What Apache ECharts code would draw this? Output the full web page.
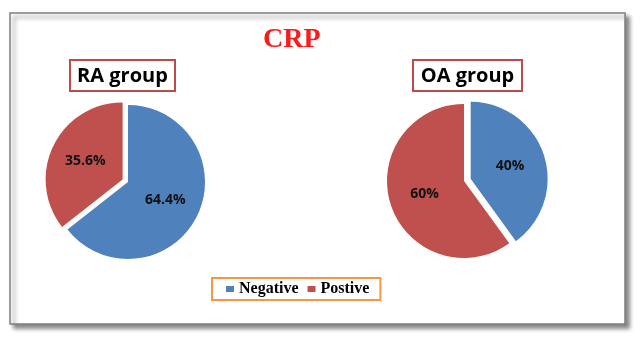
<!DOCTYPE html>
<html>
<head>
<meta charset="utf-8">
<script src="https://cdn.jsdelivr.net/npm/echarts@6/dist/echarts.min.js"></script>
<style>
  html, body { margin: 0; padding: 0; background: #fff; }
  #main { width: 640px; height: 341px; }
</style>
</head>
<body>
<div id="main"></div>
<script>
// CRP result per group, in percent
var categories = ['Negative', 'Postive'];
var raValues = [64.4, 35.6];
var oaValues = [40, 60];
var groupNames = ['RA group', 'OA group'];

var chart = echarts.init(document.getElementById('main'));

// build pie data; the exploded slice is the one marked selected
function pieData(values, explodeIdx) {
    return categories.map(function (name, i) {
        return { name: name, value: values[i], selected: i === explodeIdx };
    });
}

function pieSeries(values, center, explodeIdx, offset) {
    return {
        type: 'pie',
        center: center,
        radius: 77,
        startAngle: 90,
        clockwise: true,
        selectedMode: 'single',
        selectedOffset: offset,
        silent: true,
        emphasis: { disabled: true },
        label: {
            position: 'inside',
            formatter: function (p) { return p.value + '%'; },
            color: '#111',
            fontFamily: 'Open Sans',
            fontWeight: 'bold',
            fontSize: 14
        },
        labelLine: { show: false },
        data: pieData(values, explodeIdx)
    };
}

var option = {
    backgroundColor: '#fff',
    animation: false,
    color: ['#4f81bd', '#c0504d'],
    graphic: [
        {
            type: 'rect', z: -10,
            shape: { x: 10, y: 13, width: 615, height: 311 },
            style: {
                fill: '#fff', stroke: '#7f7f7f', lineWidth: 1.5,
                shadowBlur: 4, shadowOffsetX: 4, shadowOffsetY: 4, shadowColor: 'rgba(0,0,0,0.45)'
            }
        },
        {
            type: 'text', left: 263, top: 26,
            style: {
                text: 'CRP', fill: '#ff1a1a',
                font: 'bold 28px "Liberation Serif", "Times New Roman", serif'
            }
        },
        {
            type: 'rect',
            shape: { x: 70, y: 60, width: 105, height: 31 },
            style: { fill: '#fff', stroke: '#be4b48', lineWidth: 2 }
        },
        {
            type: 'text', x: 122.5, y: 76,
            style: {
                text: groupNames[0], fill: '#000', align: 'center', verticalAlign: 'middle',
                font: 'bold 20px "Open Sans", sans-serif'
            }
        },
        {
            type: 'rect',
            shape: { x: 413, y: 60, width: 109, height: 31 },
            style: { fill: '#fff', stroke: '#be4b48', lineWidth: 2 }
        },
        {
            type: 'text', x: 467.5, y: 76,
            style: {
                text: groupNames[1], fill: '#000', align: 'center', verticalAlign: 'middle',
                font: 'bold 20px "Open Sans", sans-serif'
            }
        }
    ],
    legend: {
        data: categories,
        left: 212,
        top: 278,
        icon: 'rect',
        itemWidth: 8,
        itemHeight: 6,
        itemGap: 9,
        selectedMode: false,
        borderColor: '#f79646',
        borderWidth: 2,
        padding: [3, 11, 3, 14],
        textStyle: {
            color: '#000',
            fontFamily: 'Liberation Serif',
            fontWeight: 'bold',
            fontSize: 16
        }
    },
    series: [
        pieSeries(raValues, [128, 182], 1, 6),
        pieSeries(oaValues, [464, 181], 0, 7)
    ]
};

chart.setOption(option);
</script>
</body>
</html>
